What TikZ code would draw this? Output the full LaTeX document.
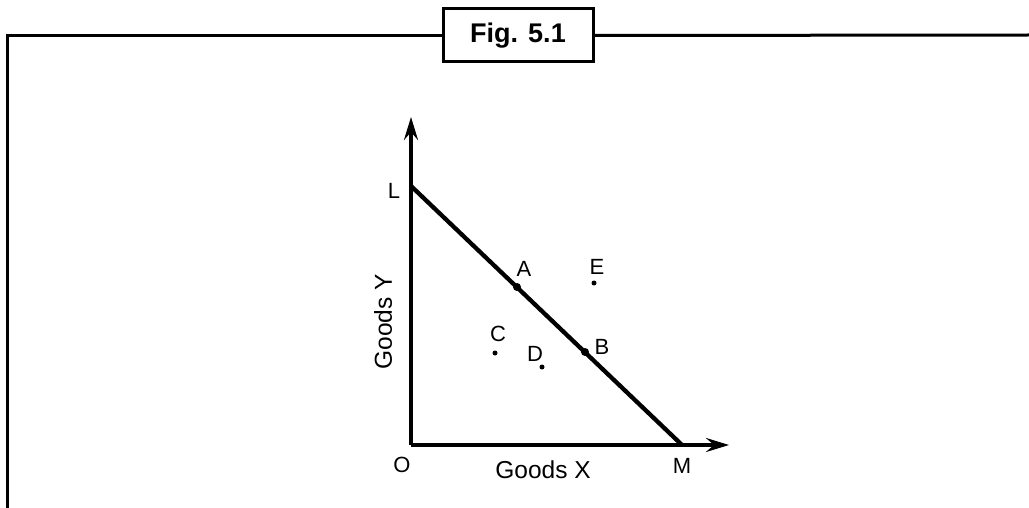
\documentclass[tikz,border=0pt]{standalone}
\usepackage{fontspec}
\setmainfont{Liberation Sans}
\usetikzlibrary{arrows.meta}
\begin{document}
\begin{tikzpicture}[x=1pt,y=-1pt,
  lbl/.style={font=\fontsize{22}{26}\selectfont, inner sep=0pt},
  axlbl/.style={font=\fontsize{24.5}{28}\selectfont, inner sep=0pt},
  axis/.style={line width=3.3pt, -{Stealth[length=23pt,width=14pt,inset=8pt]}},
  dotpt/.style={circle, fill, inner sep=0pt, minimum size=5pt},
  ondot/.style={circle, fill, inner sep=0pt, minimum size=8pt}]
\useasboundingbox (0,0) rectangle (1029,508);
% frame and title
\node[draw, line width=3pt, minimum width=150pt, minimum height=53pt, inner sep=0pt,
      font=\bfseries\fontsize{27}{30}\selectfont] (title) at (518,35.5) {Fig. 5.1};
\coordinate (fl) at (7,508);
\coordinate (fr) at (1029,35);
\draw[line width=3pt] (fl) |- (title.west);
\draw[line width=3pt] (title.east) -- (fr);
% axes
\coordinate (O) at (411,445);
\coordinate (ytip) at (411,117);
\coordinate (xtip) at (729,445);
\draw[axis] (O) -- (ytip);
\draw[axis] (O) -- (xtip);
% budget line
\coordinate (L) at (411,186);
\coordinate (M) at (682,445);
\draw[line width=4.3pt] (L) -- (M);
% points
\node[ondot] (A) at (517,287) {};
\node[ondot] (B) at (585,352) {};
\node[dotpt] (C) at (495,353) {};
\node[dotpt] (D) at (542,367) {};
\node[dotpt] (E) at (594,283) {};
% labels
\node[lbl] (lA) at (524,269) {A};
\node[lbl] (lB) at (602,347) {B};
\node[lbl] (lC) at (498,334) {C};
\node[lbl] (lD) at (535,354) {D};
\node[lbl] (lE) at (597,267) {E};
\node[lbl] (lL) at (394,191) {L};
\node[lbl] (lO) at (402,465) {O};
\node[lbl] (lM) at (682,466) {M};
\node[axlbl] (gx) at (543,470) {Goods X};
\node[axlbl, rotate=90] (gy) at (383,322) {Goods Y};
\end{tikzpicture}
\end{document}
